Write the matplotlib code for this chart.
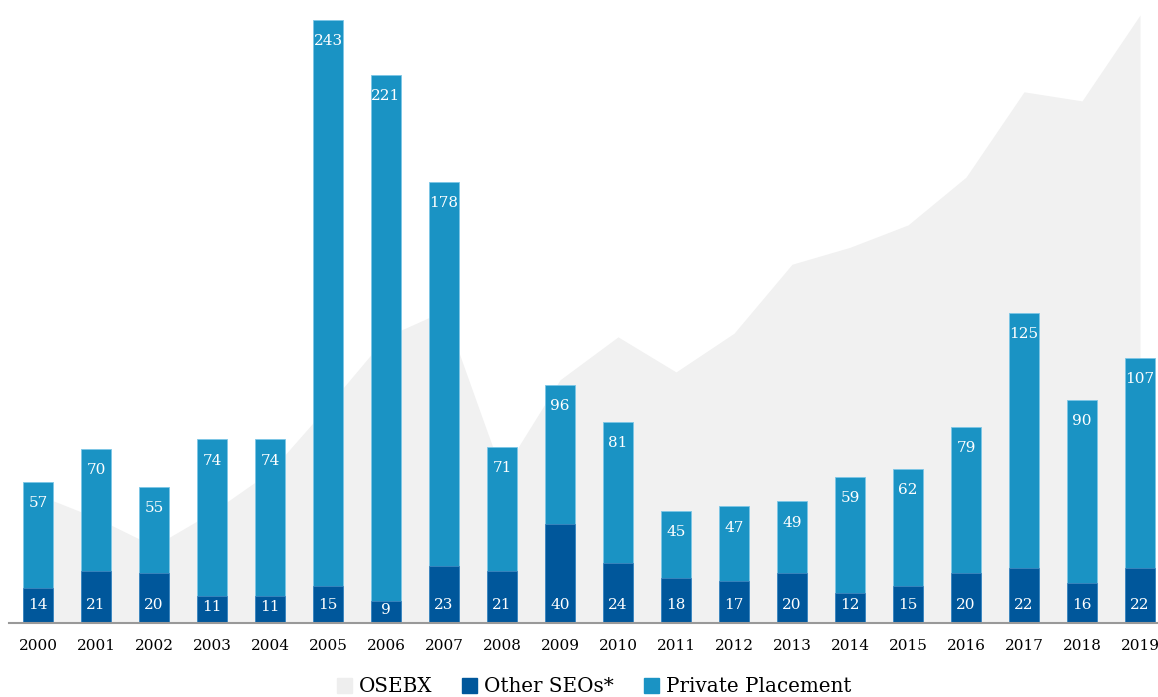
import matplotlib.pyplot as plt
from matplotlib.patches import Patch

# Data
years = [str(y) for y in range(2000, 2020)]
other_seos = [14, 21, 20, 11, 11, 15, 9, 23, 21, 40, 24, 18, 17, 20, 12, 15, 20, 22, 16, 22]
private_placement = [57, 70, 55, 74, 74, 243, 221, 178, 71, 96, 81, 45, 47, 49, 59, 62, 79, 125, 90, 107]
# OSEBX index level (estimated, own scale)
osebx = [212, 174, 127, 183, 250, 359, 473, 516, 248, 402, 473, 415, 479, 593, 621, 658, 737, 878, 863, 1005]

light = '#1a93c4'
dark = '#00579b'
grey = '#f1f1f1'

plt.rcParams['font.family'] = ['DejaVu Serif']

fig = plt.figure(figsize=(11.58, 6.97), dpi=100)
ax2 = fig.add_axes([9 / 1158, 74 / 697, 1149 / 1158, 613 / 697])
ax = fig.add_axes([9 / 1158, 74 / 697, 1149 / 1158, 613 / 697])
ax.patch.set_visible(False)

x = list(range(len(years)))

# OSEBX area in the background
ax2.fill_between(x, osebx, 0, color=grey, lw=0)
ax2.set_ylim(0, 613 / 0.605)
ax2.set_xlim(-0.5, 19.31)
ax2.axis('off')

# Bars overlap: private placement from zero, other SEOs drawn on top
w = 0.53
ax.bar(x, private_placement, width=w, color=light, edgecolor='#7cc6e6', linewidth=0.6)
ax.bar(x, other_seos, width=w, color=dark, edgecolor='#3f86bf', linewidth=0.6)

for i in x:
    ax.text(i, private_placement[i] - 8.5, str(private_placement[i]), ha='center', va='center',
            color='white', fontsize=11)
    ax.text(i, min(7.3, other_seos[i] * 0.6), str(other_seos[i]), ha='center', va='center',
            color='white', fontsize=11)

ax.set_ylim(0, 613 / 2.48)
ax.set_xlim(-0.5, 19.31)
ax.set_xticks(x)
ax.set_xticklabels(years, fontsize=11)
ax.tick_params(axis='x', length=0, pad=11.5)
ax.set_yticks([])
for s in ['top', 'right', 'left']:
    ax.spines[s].set_visible(False)
ax.spines['bottom'].set_color('#999999')
ax.spines['bottom'].set_linewidth(1.5)

handles = [Patch(color='#eeeeee', label='OSEBX'),
           Patch(color=dark, label='Other SEOs*'),
           Patch(color=light, label='Private Placement')]
fig.legend(handles=handles, loc='center', bbox_to_anchor=(0.513, 10 / 697), ncol=3, frameon=False,
           fontsize=14.3, handlelength=0.75, handleheight=0.75, handletextpad=0.35, columnspacing=1.5)

fig.savefig('out.png', dpi=100)
